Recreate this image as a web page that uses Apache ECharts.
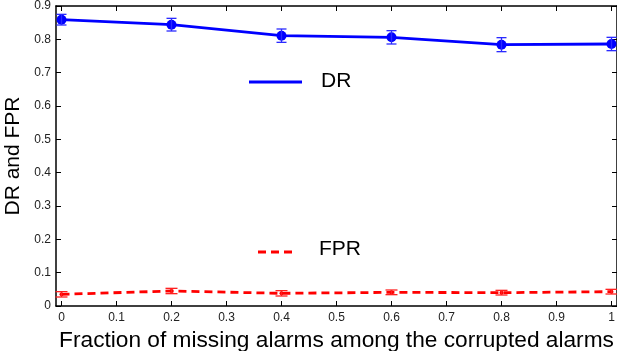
<!DOCTYPE html>
<html>
<head>
<meta charset="utf-8">
<script src="https://cdn.jsdelivr.net/npm/echarts@6/dist/echarts.min.js"></script>
<style>
  html, body { margin: 0; padding: 0; background: #fff; }
  #chart { width: 617px; height: 351px; }
</style>
</head>
<body>
<div id="chart"></div>
<script>
// x positions (fraction of missing alarms)
const fractions = [0, 0.2, 0.4, 0.6, 0.8, 1];
// DR mean and error half-width
const drMean = [0.859, 0.844, 0.811, 0.806, 0.784, 0.786];
const drErr = [0.016, 0.019, 0.02, 0.02, 0.021, 0.02];
// FPR mean and error half-width
const fprMean = [0.035, 0.045, 0.038, 0.041, 0.040, 0.043];
const fprErr = [0.008, 0.008, 0.008, 0.007, 0.007, 0.007];
// tick labels
const xTicks = [0, 0.1, 0.2, 0.3, 0.4, 0.5, 0.6, 0.7, 0.8, 0.9, 1];
const yTicks = [0, 0.1, 0.2, 0.3, 0.4, 0.5, 0.6, 0.7, 0.8, 0.9];

const font = 'Liberation Sans, Arial, Helvetica, sans-serif';

function pts(mean) {
  return fractions.map((x, i) => [x, mean[i]]);
}
function bars(mean, err) {
  return fractions.map((x, i) => [x, mean[i] - err[i], mean[i] + err[i]]);
}

// error bar: vertical line with caps
function errorBar(color, cap) {
  return function (params, api) {
    const lo = api.coord([api.value(0), api.value(1)]);
    const hi = api.coord([api.value(0), api.value(2)]);
    const st = { stroke: color, lineWidth: 1.3 };
    return {
      type: 'group',
      children: [
        { type: 'line', shape: { x1: lo[0], y1: lo[1], x2: hi[0], y2: hi[1] }, style: st },
        { type: 'line', shape: { x1: lo[0] - cap, y1: lo[1], x2: lo[0] + cap, y2: lo[1] }, style: st },
        { type: 'line', shape: { x1: hi[0] - cap, y1: hi[1], x2: hi[0] + cap, y2: hi[1] }, style: st }
      ]
    };
  };
}

const axisLine = { show: true, onZero: false, lineStyle: { color: '#000', width: 1.5 } };
const tickIn = { show: true, inside: true, length: 5, lineStyle: { color: '#000', width: 1 } };

let chart = echarts.init(document.getElementById('chart'));
chart.setOption({
  animation: false,
  textStyle: { fontFamily: font },
  grid: { left: 56, right: 0, top: 6, bottom: 45, containLabel: false, outerBoundsMode: 'none' },
  xAxis: [{
    type: 'value',
    min: -0.01,
    max: 1.01,
    axisLine: axisLine,
    axisTick: Object.assign({ customValues: xTicks }, tickIn),
    axisLabel: { customValues: xTicks, color: '#222', fontSize: 12, margin: 6, fontFamily: font },
    splitLine: { show: false },
    name: 'Fraction of missing alarms among the corrupted alarms',
    nameLocation: 'middle',
    nameGap: 18,
    nameTextStyle: { fontSize: 22.7, color: '#000', fontFamily: font }
  }, {
    type: 'value',
    position: 'top',
    min: -0.01,
    max: 1.01,
    axisLine: axisLine,
    axisTick: Object.assign({ customValues: xTicks }, tickIn),
    axisLabel: { show: false },
    splitLine: { show: false }
  }],
  yAxis: [{
    type: 'value',
    min: 0,
    max: 0.9,
    interval: 0.1,
    axisLine: axisLine,
    axisTick: tickIn,
    axisLabel: { color: '#222', fontSize: 12, margin: 5, fontFamily: font },
    splitLine: { show: false },
    name: 'DR and FPR',
    nameLocation: 'middle',
    nameGap: 26,
    nameTextStyle: { fontSize: 21, color: '#000', fontFamily: font }
  }, {
    type: 'value',
    position: 'right',
    min: 0,
    max: 0.9,
    interval: 0.1,
    axisLine: axisLine,
    axisTick: tickIn,
    axisLabel: { show: false },
    splitLine: { show: false }
  }],
  graphic: [
    { type: 'line', shape: { x1: 249, y1: 82, x2: 302, y2: 82 }, style: { stroke: '#0000ff', lineWidth: 2.8 } },
    { type: 'text', left: 321, top: 71, style: { text: 'DR', fontSize: 21, fontFamily: font, fill: '#000' } },
    { type: 'line', shape: { x1: 258, y1: 252, x2: 296, y2: 252 }, style: { stroke: '#ff0000', lineWidth: 2.8, lineDash: [8, 5] } },
    { type: 'text', left: 319, top: 239, style: { text: 'FPR', fontSize: 21, fontFamily: font, fill: '#000' } }
  ],
  series: [{
    name: 'DR',
    type: 'line',
    data: pts(drMean),
    symbol: 'circle',
    symbolSize: 10,
    lineStyle: { color: '#0000ff', width: 2.8 },
    itemStyle: { color: '#0000ff' },
    z: 3
  }, {
    name: 'DR err',
    type: 'custom',
    data: bars(drMean, drErr),
    encode: { x: 0, y: [1, 2] },
    renderItem: errorBar('#2a2aff', 5),
    clip: false,
    z: 4
  }, {
    name: 'FPR',
    type: 'line',
    data: pts(fprMean),
    symbol: 'circle',
    symbolSize: 4,
    lineStyle: { color: '#ff0000', width: 2.8, type: [8, 5] },
    itemStyle: { color: '#ff0000' },
    z: 3
  }, {
    name: 'FPR err',
    type: 'custom',
    data: bars(fprMean, fprErr),
    encode: { x: 0, y: [1, 2] },
    renderItem: errorBar('#ff2020', 6),
    clip: false,
    z: 4
  }]
});
</script>
</body>
</html>
